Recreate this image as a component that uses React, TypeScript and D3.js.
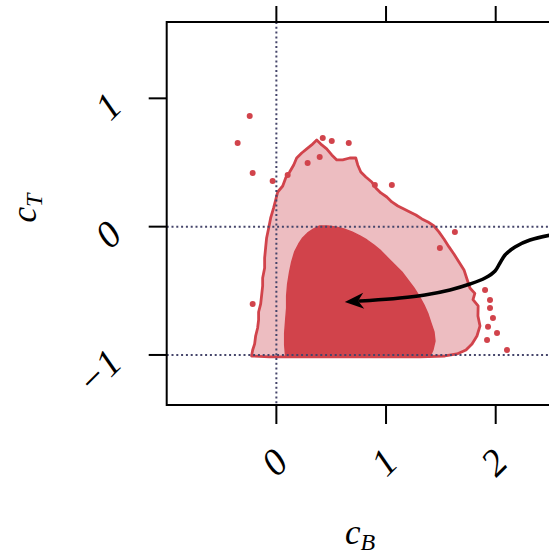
import * as d3 from 'd3';

const W = 549;
const H = 557;

const xTicks = [0, 1, 2];
const yTicks = [-1, 0, 1];
const xTickLabels = ['0', '1', '2'];
const yTickLabels = ['\u22121', '0', '1'];
const refX = [0];
const refY = [0, -1];

// outer credible contour (cB, cT)
const outer: [number, number][] = [
  [-0.226, -1.008], [-0.216, -0.961], [-0.198, -0.914], [-0.189, -0.852], [-0.171, -0.79],
  [-0.162, -0.727], [-0.162, -0.665], [-0.143, -0.602], [-0.134, -0.532], [-0.125, -0.462],
  [-0.125, -0.4], [-0.107, -0.322], [-0.107, -0.244], [-0.098, -0.166], [-0.089, -0.088],
  [-0.07, -0.01], [-0.052, 0.068], [-0.025, 0.146], [-0.006, 0.208], [0.012, 0.27],
  [0.058, 0.317], [0.085, 0.38], [0.121, 0.426], [0.158, 0.481], [0.185, 0.535],
  [0.231, 0.574], [0.277, 0.606], [0.322, 0.637], [0.368, 0.676], [0.414, 0.637],
  [0.459, 0.606], [0.505, 0.559], [0.551, 0.52], [0.605, 0.52], [0.669, 0.535],
  [0.724, 0.535], [0.742, 0.481], [0.77, 0.426], [0.816, 0.387], [0.87, 0.348],
  [0.907, 0.302], [0.953, 0.263], [1.007, 0.231], [1.053, 0.193], [1.108, 0.161],
  [1.163, 0.138], [1.217, 0.115], [1.272, 0.091], [1.327, 0.06], [1.382, 0.037],
  [1.437, 0.005], [1.482, -0.041], [1.528, -0.096], [1.574, -0.158], [1.619, -0.213],
  [1.665, -0.275], [1.711, -0.337], [1.738, -0.408], [1.765, -0.478], [1.81, -0.52],
  [1.793, -0.568], [1.84, -0.618], [1.838, -0.696], [1.857, -0.774], [1.829, -0.852],
  [1.784, -0.914], [1.729, -0.961], [1.647, -0.992], [1.537, -1.008], [1.309, -1.015],
  [0.943, -1.015], [0.578, -1.015], [0.213, -1.015], [-0.061, -1.015],
];

// inner contour
const inner: [number, number][] = [
  [0.085, -1.015], [0.076, -0.922], [0.076, -0.829], [0.085, -0.727], [0.094, -0.634],
  [0.094, -0.54], [0.103, -0.447], [0.121, -0.353], [0.14, -0.275], [0.167, -0.197],
  [0.204, -0.135], [0.24, -0.088], [0.286, -0.049], [0.341, -0.018], [0.395, 0.005],
  [0.468, 0.005], [0.542, -0.002], [0.615, -0.018], [0.688, -0.041], [0.761, -0.072],
  [0.825, -0.104], [0.889, -0.143], [0.953, -0.189], [1.016, -0.244], [1.08, -0.299],
  [1.144, -0.353], [1.199, -0.415], [1.254, -0.478], [1.3, -0.54], [1.345, -0.61],
  [1.382, -0.68], [1.409, -0.751], [1.437, -0.821], [1.446, -0.891], [1.427, -0.961],
  [1.4, -1.015], [1.0, -1.015], [0.6, -1.015], [0.3, -1.015],
];

// isolated islands of the outer level
const specks: [number, number][] = [
  [-0.243, 0.863], [-0.353, 0.652], [-0.216, 0.418], [-0.034, 0.356], [-0.216, -0.602],
  [2.103, -0.961], [1.948, -0.634], [2.012, -0.829], [1.921, -0.883], [0.423, 0.691],
  [0.505, 0.668], [0.66, 0.652], [1.053, 0.325], [1.491, -0.166], [1.628, -0.041],
  [0.285, 0.496], [0.395, 0.543], [0.898, 0.325], [0.103, 0.403],
  [1.948, -0.571], [1.975, -0.712], [1.903, -0.493], [1.93, -0.78],
];

const arrowPts: [number, number][] = [
  [2.6, -0.05], [2.313, -0.104], [2.176, -0.158], [2.085, -0.221], [2.039, -0.283],
  [1.994, -0.345], [1.903, -0.4], [1.765, -0.447], [1.583, -0.493], [1.354, -0.532],
  [1.126, -0.556], [0.852, -0.575], [0.761, -0.579],
];
const arrowTip: [number, number] = [0.624, -0.587];

const RED = '#d1434b';
const PINK = '#edbdc1';
const DOT = '#45456a';
const FONT = '"Liberation Serif", "DejaVu Serif", serif';

export default function App() {
  const x = d3.scaleLinear().domain([-1, 2]).range([166.7, 495.7]);
  const y = d3.scaleLinear().domain([-1.39, 1.595]).range([405, 22]);
  const left = x(-1);
  const top = y(1.595);
  const bottom = y(-1.39);

  const poly = d3.line<[number, number]>().x(d => x(d[0])).y(d => y(d[1])).curve(d3.curveLinearClosed);
  const arrowLine = d3.line<[number, number]>().x(d => x(d[0])).y(d => y(d[1])).curve(d3.curveCatmullRom.alpha(0.5));

  // arrow head geometry
  const last = arrowPts[arrowPts.length - 1];
  const tx = x(arrowTip[0]), ty = y(arrowTip[1]);
  const ang = Math.atan2(ty - y(last[1]), tx - x(last[0]));
  const hl = 19, hw = 8;
  const ux = Math.cos(ang), uy = Math.sin(ang);
  const bx = tx - ux * hl, by = ty - uy * hl;
  const head = `M${tx},${ty} L${bx - uy * hw},${by + ux * hw} L${tx - ux * hl * 0.7},${ty - uy * hl * 0.7} L${bx + uy * hw},${by - ux * hw} Z`;

  return (
    <div style={{ position: 'absolute', left: 0, top: 0 }}>
      <svg width={W} height={H} style={{ display: 'block', background: '#fff' }}>
        <defs>
          <clipPath id="plot">
            <rect x={left} y={top} width={W - left} height={bottom - top} />
          </clipPath>
        </defs>
        <g clipPath="url(#plot)">
          <path d={poly(outer) ?? ''} fill={PINK} stroke="none" />
          <path d={poly(inner) ?? ''} fill={RED} stroke={RED} strokeWidth={1.5} strokeLinejoin="round" />
          <path d={poly(outer) ?? ''} fill="none" stroke={RED} strokeWidth={2.8} strokeLinejoin="round" />
          {specks.map((d, i) => (
            <circle key={i} cx={x(d[0])} cy={y(d[1])} r={3} fill={RED} />
          ))}
          {refX.map(v => (
            <line key={'vx' + v} x1={x(v)} x2={x(v)} y1={top} y2={bottom}
              stroke={DOT} strokeWidth={2} strokeDasharray="2,2.8" />
          ))}
          {refY.map(v => (
            <line key={'hy' + v} x1={left} x2={W} y1={y(v)} y2={y(v)}
              stroke={DOT} strokeWidth={2} strokeDasharray="2,2.8" />
          ))}
          <path d={arrowLine(arrowPts) ?? ''} fill="none" stroke="#000" strokeWidth={3.6} strokeLinecap="round" />
          <path d={head} fill="#000" />
        </g>

        {/* spines */}
        <line x1={left} x2={W} y1={top} y2={top} stroke="#000" strokeWidth={2} />
        <line x1={left} x2={W} y1={bottom} y2={bottom} stroke="#000" strokeWidth={2} />
        <line x1={left} x2={left} y1={top - 1} y2={bottom + 1} stroke="#000" strokeWidth={2} />

        {/* ticks */}
        {xTicks.map(t => (
          <g key={'xt' + t}>
            <line x1={x(t)} x2={x(t)} y1={bottom} y2={bottom + 19} stroke="#000" strokeWidth={2} />
            <line x1={x(t)} x2={x(t)} y1={top} y2={top - 16} stroke="#000" strokeWidth={2} />
          </g>
        ))}
        {yTicks.map(t => (
          <line key={'yt' + t} x1={left - 18} x2={left} y1={y(t)} y2={y(t)} stroke="#000" strokeWidth={2} />
        ))}

        {/* tick labels */}
        {xTicks.map((t, i) => (
          <text key={'xl' + t} transform={`translate(${x(t) - 2},${462}) rotate(-45)`}
            textAnchor="middle" dominantBaseline="central"
            fontFamily={FONT} fontStyle="italic" fontSize={38} fill="#000">
            {xTickLabels[i]}
          </text>
        ))}
        {yTicks.map((t, i) => (
          <text key={'yl' + t} transform={`translate(${left - 52},${y(t) + 1}) rotate(-45)`}
            textAnchor="end" dominantBaseline="central"
            fontFamily={FONT} fontStyle="italic" fontSize={38} fill="#000">
            {yTickLabels[i]}
          </text>
        ))}

        {/* axis labels */}
        <text x={360} y={544} textAnchor="middle" fontFamily={FONT} fontStyle="italic" fontSize={35} fill="#000">
          c<tspan fontSize={24} dy={6}>B</tspan>
        </text>
        <text transform={`translate(36,208) rotate(-90)`} textAnchor="middle" fontFamily={FONT} fontStyle="italic" fontSize={35} fill="#000">
          c<tspan fontSize={24} dy={6}>T</tspan>
        </text>
      </svg>
    </div>
  );
}
